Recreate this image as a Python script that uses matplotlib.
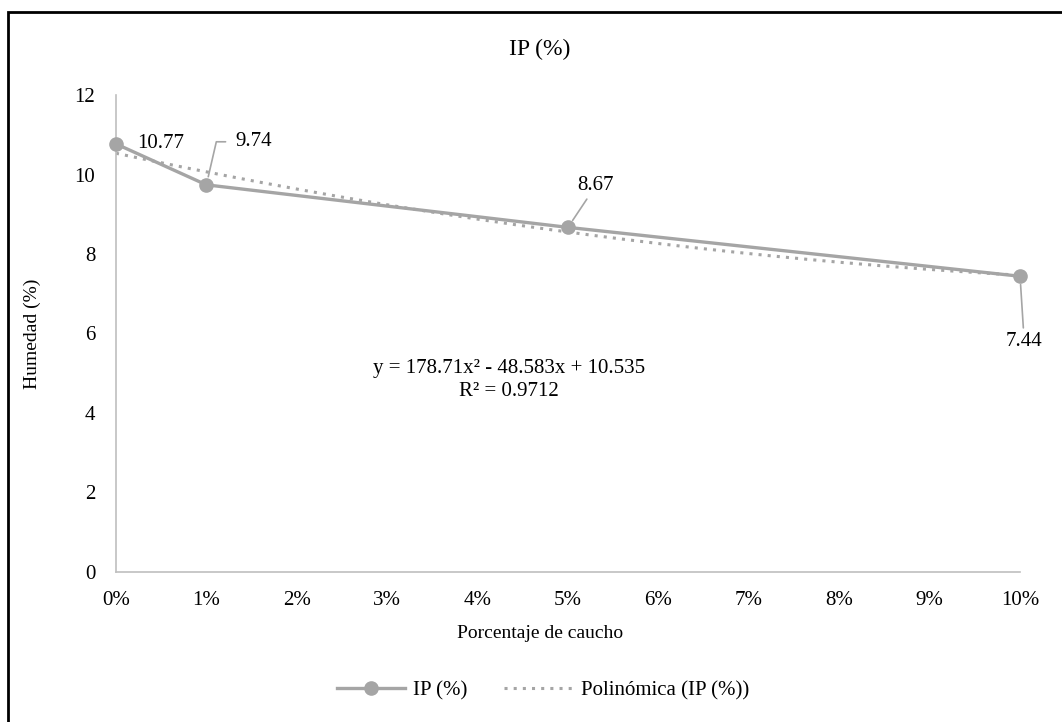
import numpy as np
import matplotlib.pyplot as plt
from matplotlib.ticker import FuncFormatter, MultipleLocator
from matplotlib.patches import Rectangle

plt.rcParams['font.family'] = ['Liberation Serif', 'DejaVu Serif']

# datos
caucho = [0.00, 0.01, 0.05, 0.10]
ip = [10.77, 9.74, 8.67, 7.44]
etiquetas = ['10.77', '9.74', '8.67', '7.44']
ecuacion = 'y = 178.71x² - 48.583x + 10.535\nR² = 0.9712'

gris = '#A5A5A5'

fig = plt.figure(figsize=(10.62, 7.22), dpi=100)
ax = fig.add_axes([0.1092, 0.2078, 0.8513, 0.6606])

# linea de tendencia polinomica (grado 2)
coef = np.polyfit(caucho, ip, 2)
xs = np.linspace(caucho[0], caucho[-1], 200)
ax.plot(xs, np.polyval(coef, xs), color=gris, linestyle=(0, (1, 2)), linewidth=2.2,
        label='Polinómica (IP (%))', zorder=2)

ax.plot(caucho, ip, color=gris, linewidth=2.4, marker='o', markersize=9.5,
        label='IP (%)', zorder=3, clip_on=False)

# etiquetas de datos (desplazamientos en puntos)
offsets = [(32, 0), (34, 31), (20, 30), (3, -47)]
for x, y, txt, off in zip(caucho, ip, etiquetas, offsets):
    if txt == '10.77':
        ax.annotate(txt, (x, y), xytext=off, textcoords='offset points',
                    ha='center', va='center', fontsize=15)
    elif txt == '9.74':
        ax.annotate(txt, (x, y), xytext=off, textcoords='offset points',
                    ha='center', va='center', fontsize=15,
                    arrowprops=dict(arrowstyle='-', color=gris, lw=1.2,
                                    relpos=(0, 0.5), shrinkA=5, shrinkB=6,
                                    connectionstyle='angle,angleA=0,angleB=77,rad=0'))
    else:
        ax.annotate(txt, (x, y), xytext=off, textcoords='offset points',
                    ha='center', va='center', fontsize=15,
                    arrowprops=dict(arrowstyle='-', color=gris, lw=1.2,
                                    shrinkA=1, shrinkB=6))

ax.text(0.0435, 4.83, ecuacion, ha='center', va='center', fontsize=15, linespacing=1.25)

ax.set_xlim(0, 0.10)
ax.set_ylim(0, 12)
ax.xaxis.set_major_locator(MultipleLocator(0.01))
ax.yaxis.set_major_locator(MultipleLocator(2))
ax.xaxis.set_major_formatter(FuncFormatter(lambda v, p: f'{v*100:.0f}%'))
ax.tick_params(length=0, labelsize=15)
ax.tick_params(axis='x', pad=14)
ax.tick_params(axis='y', pad=15)

for s in ['top', 'right']:
    ax.spines[s].set_visible(False)
for s in ['left', 'bottom']:
    ax.spines[s].set_color('#BFBFBF')
    ax.spines[s].set_linewidth(1.2)

# titulos centrados en el area del grafico
fig.text(0.5085, 0.932, 'IP (%)', ha='center', va='center', fontsize=17)
fig.text(0.5085, 0.123, 'Porcentaje de caucho', ha='center', va='center', fontsize=14)
fig.text(0.030, 0.538, 'Humedad (%)', ha='center', va='center', fontsize=14, rotation=90)

handles, labels = ax.get_legend_handles_labels()
fig.legend(handles[::-1], labels[::-1], loc='center', bbox_to_anchor=(0.511, 0.044),
           ncol=2, frameon=False, fontsize=15, handlelength=3.3, handletextpad=0.35,
           columnspacing=1.8)

# marco
fig.patches.append(Rectangle((0.0075, -0.1), 1.2, 1.0831, transform=fig.transFigure,
                             fill=False, edgecolor='black', linewidth=2))

fig.savefig('out.png', dpi=100)
